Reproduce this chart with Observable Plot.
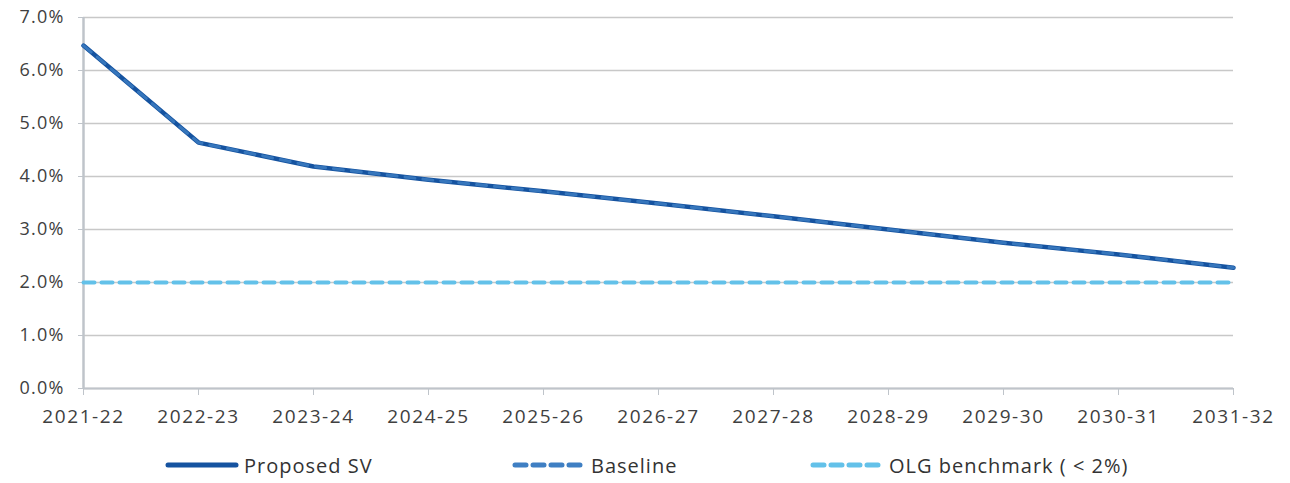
<!DOCTYPE html>
<html><head><meta charset="utf-8">
<script src="https://cdn.jsdelivr.net/npm/d3@7"></script>
<script src="https://cdn.jsdelivr.net/npm/@observablehq/plot@0.6"></script>
<style>
body{margin:0;background:#fff;font-family:"Open Sans",sans-serif;}
#chart svg text{letter-spacing:1.2px;}
#chart svg g[aria-label="x-axis tick label"] text{letter-spacing:1.6px;}
#legend{position:relative;height:53px;font-size:20px;color:#333;letter-spacing:1px;}
.item{position:absolute;top:22px;height:26px;display:flex;align-items:center;}
.item svg{margin-right:5px}
</style></head><body>
<div id="chart"></div>
<div id="legend"></div>
<script>
const years = ["2021-22","2022-23","2023-24","2024-25","2025-26","2026-27","2027-28","2028-29","2029-30","2030-31","2031-32"];
const proposedSV = [6.47,4.64,4.19,3.94,3.72,3.49,3.25,3.0,2.75,2.53,2.28];
const baseline = [6.47,4.64,4.19,3.94,3.72,3.49,3.25,3.0,2.75,2.53,2.28];
const olg = [2,2,2,2,2,2,2,2,2,2,2];
const yTicks = [0,1,2,3,4,5,6,7];
const seriesNames = ["Proposed SV","Baseline","OLG benchmark ( < 2%)"];

const colors = {sv:"#1553a0", base:"#3f7fc3", olg:"#63c1e9"};
const rows = k => years.map((y,i)=>({year:y, v:k[i]}));

const chart = Plot.plot({
  width:1290, height:430,
  marginLeft:83, marginRight:57, marginTop:17, marginBottom:42,
  style:{fontFamily:"'Open Sans', sans-serif", fontSize:"18px", color:"#404040", background:"#fff"},
  x:{type:"point", domain:years, label:null, padding:0},
  y:{domain:[0,7], ticks:yTicks, label:null, tickFormat:d=>d.toFixed(1)+"%"},
  marks:[
    Plot.gridY(yTicks,{stroke:"#c8c8c8", strokeOpacity:1, strokeWidth:1.5}),
    Plot.ruleY([0],{stroke:"#bfc4ca", strokeWidth:2}),
    Plot.ruleX([years[0]],{stroke:"#bfc4ca", strokeWidth:2.5}),
    Plot.axisY({ticks:yTicks, tickSize:5, tickPadding:14, stroke:"#bfc4ca", fill:"#404040", fontSize:18, tickFormat:d=>d.toFixed(1)+"%"}),
    Plot.axisX({tickSize:7, tickPadding:14, stroke:"#bfc4ca", fill:"#404040", fontSize:19}),
    Plot.line(rows(olg),{x:"year", y:"v", stroke:colors.olg, strokeWidth:4, strokeDasharray:"11,7", strokeLinecap:"round"}),
    Plot.line(rows(proposedSV),{x:"year", y:"v", stroke:colors.sv, strokeWidth:4.5}),
    Plot.line(rows(baseline),{x:"year", y:"v", stroke:colors.base, strokeWidth:3, strokeDasharray:"10,8", strokeOpacity:0.8})
  ]
});
document.getElementById("chart").appendChild(chart);

const lg = document.getElementById("legend");
const items = [
  {name:seriesNames[0], left:165, color:colors.sv, dash:null},
  {name:seriesNames[1], left:512, color:colors.base, dash:"11,7"},
  {name:seriesNames[2], left:810, color:colors.olg, dash:"11,7"}
];
items.forEach(it=>{
  const d = document.createElement("div");
  d.className="item"; d.style.left=it.left+"px";
  d.innerHTML = `<svg width="74" height="8"><line x1="3" y1="4" x2="71" y2="4" stroke="${it.color}" stroke-width="5" stroke-linecap="round" ${it.dash?`stroke-dasharray="${it.dash}"`:""}/></svg><span>${it.name}</span>`;
  lg.appendChild(d);
});
</script>
</body></html>
